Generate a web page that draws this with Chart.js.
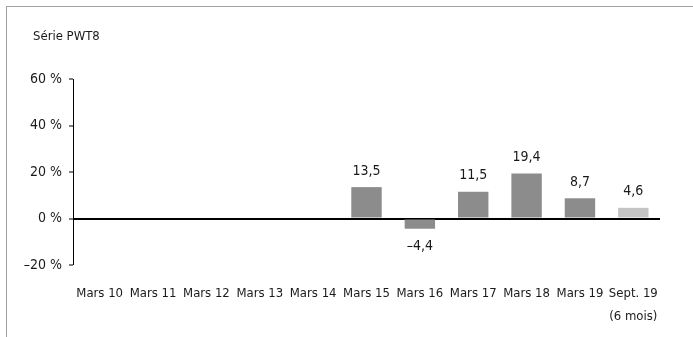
<!DOCTYPE html>
<html>
<head>
<meta charset="utf-8">
<script src="https://cdn.jsdelivr.net/npm/chart.js@4"></script>
<style>
    body { margin: 0; background: #fff; }
    #wrap { position: relative; width: 693px; height: 337px; }
    #frame { position: absolute; left: 6px; top: 6px; right: 0; bottom: 0;
             border-top: 1px solid #a0a0a0; border-left: 1px solid #a0a0a0; }
    canvas { position: absolute; left: 0; top: 0; }
</style>
</head>
<body>
<div id="wrap">
    <div id="frame"></div>
    <canvas id="chart" width="693" height="337"></canvas>
</div>
<script>
var categories = ["Mars 10", "Mars 11", "Mars 12", "Mars 13", "Mars 14", "Mars 15",
                  "Mars 16", "Mars 17", "Mars 18", "Mars 19", ["Sept. 19", "(6 mois)"]];
var values = [null, null, null, null, null, 13.5, -4.4, 11.5, 19.4, 8.7, 4.6];
var barColors = ["#8c8c8c", "#8c8c8c", "#8c8c8c", "#8c8c8c", "#8c8c8c", "#8c8c8c",
                 "#8c8c8c", "#8c8c8c", "#8c8c8c", "#8c8c8c", "#c4c4c4"];
var yTicks = [-20, 0, 20, 40, 60];
var title = "Série PWT8";

var fontFamily = "'DejaVu Sans Condensed', 'DejaVu Sans', sans-serif";

function frNumber(v) {
    var s = Math.abs(v).toFixed(1).replace(".", ",");
    return (v < 0 ? "\u2013" : "") + s;
}

// draws the title and the value over each bar
const labelPlugin = {
    id: "labels",
    afterDatasetsDraw: function(chart) {
        var ctx = chart.ctx;
        ctx.save();
        ctx.fillStyle = "#1a1a1a";
        ctx.font = "13px " + fontFamily;
        ctx.textAlign = "left";
        ctx.textBaseline = "middle";
        ctx.fillText(title, 33, 37);
        ctx.font = "14px " + fontFamily;
        ctx.textAlign = "center";
        chart.getDatasetMeta(0).data.forEach(function(bar, i) {
            var v = values[i];
            if (v === null) return;
            var y = v >= 0 ? bar.y - 16 : bar.y + 18;
            ctx.fillText(frNumber(v), bar.x, y);
        });
        ctx.restore();
    }
};

const config = {
    type: "bar",
    data: {
        labels: categories,
        datasets: [{
            data: values,
            backgroundColor: barColors,
            categoryPercentage: 1,
            barPercentage: 0.57
        }]
    },
    options: {
        responsive: false,
        animation: false,
        layout: { padding: { top: 79, right: 33, left: 0, bottom: 0 } },
        plugins: {
            legend: { display: false },
            tooltip: { enabled: false }
        },
        scales: {
            x: {
                grid: { display: false },
                border: { display: false },
                ticks: {
                    color: "#1a1a1a",
                    font: { family: fontFamily, size: 13, lineHeight: 1.75 },
                    padding: 9,
                    maxRotation: 0,
                    autoSkip: false
                },
                afterFit: function(scale) { scale.height = 72; }
            },
            y: {
                min: -20,
                max: 60,
                afterBuildTicks: function(scale) {
                    scale.ticks = yTicks.map(function(v) { return { value: v }; });
                },
                afterFit: function(scale) { scale.width = 73; },
                border: { display: true, color: "#000", width: 1 },
                grid: {
                    color: function(c) { return c.tick && c.tick.value === 0 ? "#000" : "rgba(0,0,0,0)"; },
                    lineWidth: function(c) { return c.tick && c.tick.value === 0 ? 2 : 0; },
                    tickColor: "#000",
                    tickWidth: 1,
                    tickLength: 4
                },
                ticks: {
                    color: "#1a1a1a",
                    font: { family: fontFamily, size: 14 },
                    padding: 7,
                    callback: function(v) {
                        return (v < 0 ? "\u2013" + Math.abs(v) : v) + " %";
                    }
                }
            }
        }
    },
    plugins: [labelPlugin]
};

new Chart(document.getElementById("chart"), config);
</script>
</body>
</html>
